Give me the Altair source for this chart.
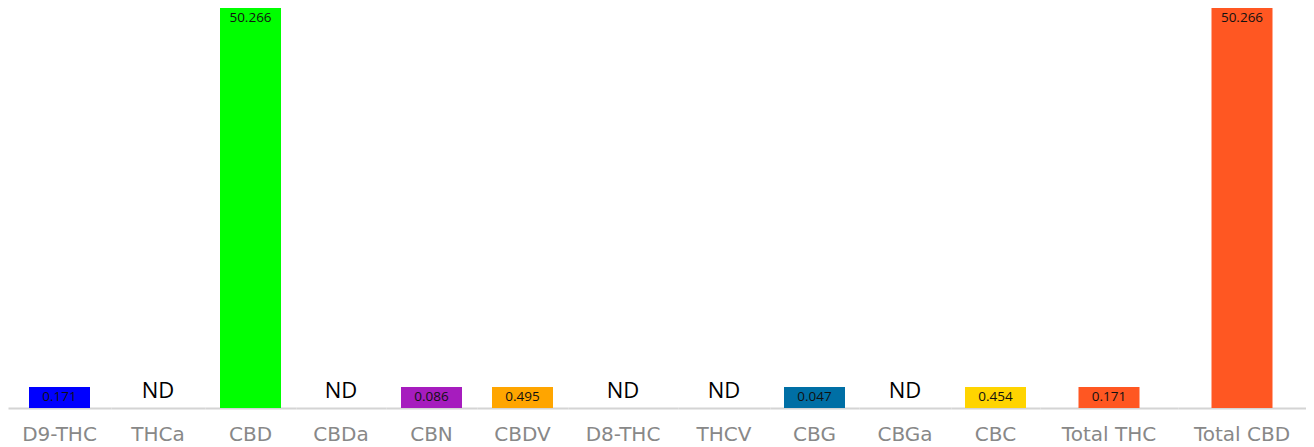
import altair as alt
import pandas as pd

names = ["D9-THC", "THCa", "CBD", "CBDa", "CBN", "CBDV", "D8-THC", "THCV",
         "CBG", "CBGa", "CBC", "Total THC", "Total CBD"]
values = [0.171, None, 50.266, None, 0.086, 0.495, None, None,
          0.047, None, 0.454, 0.171, 50.266]
colors = ["#0000ff", "#cccccc", "#00ff00", "#cccccc", "#a61cbe", "#ffa500", "#cccccc",
          "#cccccc", "#006fa5", "#cccccc", "#ffd400", "#ff5722", "#ff5722"]
panel_widths = [103, 94, 91, 90, 91, 91, 110, 92, 89, 92, 89, 138, 128]

df = pd.DataFrame({
    "name": names,
    "value": [v if v is not None else 0.0 for v in values],
    "nd": [v is None for v in values],
})

ymax = max(v for v in values if v is not None)
yscale = alt.Scale(domain=[0, ymax], nice=False, zero=True)
cscale = alt.Scale(domain=names, range=colors)
FONT = "Open Sans"


def panel(name, w):
    base = alt.Chart(df).transform_filter(alt.datum.name == name).transform_calculate(
        shown="max(datum.value, 2.63)"
    )
    x = alt.X("name:N", sort=names, title=None,
              axis=alt.Axis(labelAngle=0, ticks=False, grid=False))
    bars = base.transform_filter("!datum.nd").mark_bar(size=61).encode(
        x=x,
        y=alt.Y("shown:Q", scale=yscale, axis=None),
        color=alt.Color("name:N", scale=cscale, legend=None),
    )
    labels = base.transform_filter("!datum.nd").mark_text(
        baseline="top", dy=3, fontSize=13.5, font=FONT, color="#111111"
    ).encode(
        x=x,
        y=alt.Y("shown:Q", scale=yscale, axis=None),
        text=alt.Text("value:Q", format=".3f"),
    )
    nd = base.transform_filter("datum.nd").transform_calculate(lab="'ND'").mark_text(
        baseline="alphabetic", dy=-10, fontSize=22, font=FONT, color="#000000"
    ).encode(
        x=x,
        y=alt.Y("value:Q", scale=yscale, axis=None),
        text="lab:N",
    )
    return alt.layer(bars, labels, nd).properties(width=w, height=400)


chart = alt.hconcat(*[panel(n, w) for n, w in zip(names, panel_widths)], spacing=0).properties(
    padding=0
).configure_view(strokeWidth=0).configure_axisX(
    domainColor="#d4d4d4", domainWidth=2, labelColor="#888888", labelFontSize=20,
    labelFont="DejaVu Sans", labelPadding=16, ticks=False, grid=False
).configure_concat(spacing=0)

chart.save("out.html", embed_options={"renderer": "svg", "actions": False})
